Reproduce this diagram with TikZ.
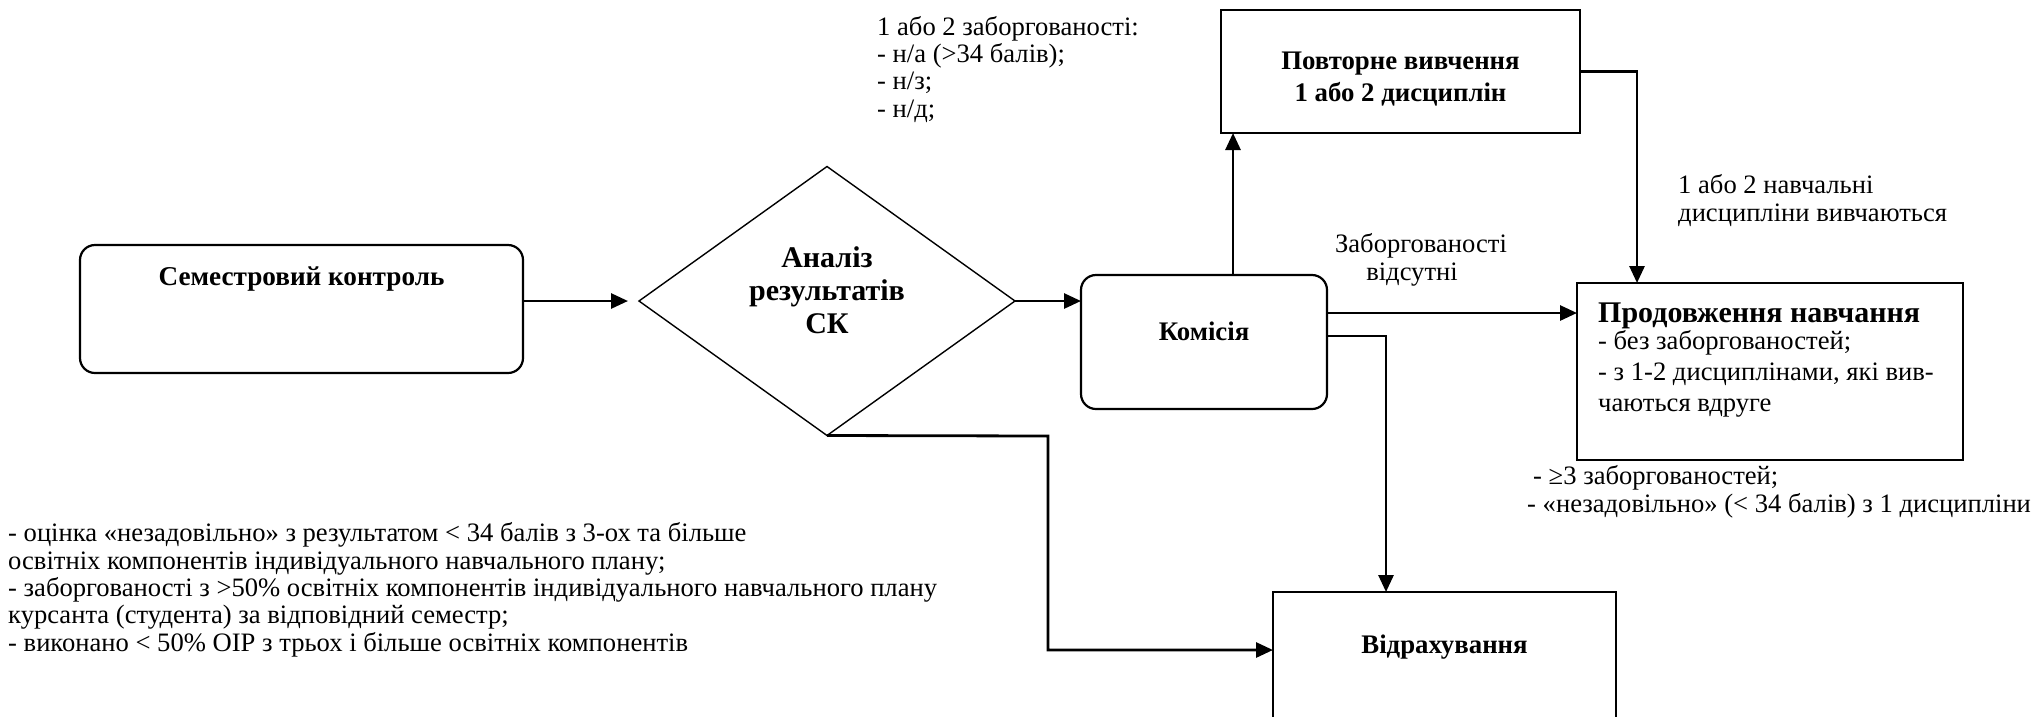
\documentclass[tikz,border=0pt]{standalone}
\usepackage{fontspec}
\setmainfont{Liberation Serif}
\usetikzlibrary{arrows.meta,shapes.geometric,calc}
\begin{document}
\begin{tikzpicture}[x=1pt,y=-1pt,
  reg/.style={font=\fontsize{26.6}{27.3}\selectfont},
  boxfont/.style={font=\fontsize{26.8}{32}\selectfont\bfseries},
  bigfont/.style={font=\fontsize{30}{33}\selectfont\bfseries},
  rbox/.style={draw, line width=2.2pt, rounded corners=15pt, inner sep=0pt, outer sep=0pt},
  sbox/.style={draw, line width=2.2pt, inner sep=0pt, outer sep=0pt},
  arr/.style={line width=2.8pt, -{Triangle[length=17pt,width=15pt]}},
  lbl/.style={reg, inner sep=0pt, align=left, anchor=base west},
]
\useasboundingbox (0,0) rectangle (2033,716);
\clip (0,0) rectangle (2033,716);

% boxes
\node[rbox, minimum width=443pt, minimum height=128pt, font=\fontsize{27.2}{32}\selectfont\bfseries, text height=20pt, text depth=68pt] (sem) at (301.5,309) {Семестровий контроль};
\node[draw, diamond, line width=1.4pt, minimum width=376pt, minimum height=269pt, inner sep=0pt, outer sep=0pt, bigfont, align=center, text height=74pt, text depth=10pt] (ana) at (827,301) {Аналіз\\результатів\\СК};
\node[rbox, minimum width=246pt, minimum height=134pt, boxfont, text height=20pt, text depth=24pt] (kom) at (1204,342) {Комісія};
\node[sbox, minimum width=359pt, minimum height=123pt, boxfont, align=center, text height=69pt, text depth=10pt] (pov) at (1400.5,71.5) {Повторне вивчення\\1 або 2 дисциплін};
\node[sbox, minimum width=386pt, minimum height=177pt] (prod) at (1770,371.5) {};
\node[lbl, font=\fontsize{26.6}{31}\selectfont] (prodtxt) at ([shift={(21,128)}]prod.north west) {{\fontsize{30}{31}\selectfont\bfseries Продовження навчання}\\[-4pt]- без заборгованостей;\\- з 1-2 дисциплінами, які вив-\\чаються вдруге};
\node[sbox, minimum width=343pt, minimum height=138pt, boxfont, text height=20pt, text depth=36pt] (vid) at (1444.5,661) {Відрахування};

% connectors
\draw[arr, shorten >=11pt] (sem.east |- ana.west) -- (ana.west);
\draw[arr] (ana.east) -- (ana.east -| kom.west);
\draw[arr] ([xshift=29pt]kom.north) -- ([xshift=29pt]kom.north |- pov.south);
\draw[arr] (pov.east) -| ([xshift=-133pt]prod.north);
\draw[arr] ([yshift=29pt]kom.east) -- ([yshift=29pt]kom.east -| prod.west);
\draw[arr] ([yshift=6pt]kom.east) -| ([xshift=-58.5pt]vid.north);
\coordinate (b1) at (1048,436);
\draw[arr] (ana.south) -- (b1) |- ([yshift=11pt]vid.west);

% labels (anchored at the baseline of the last line)
\node[lbl] (l1) at (877,117) {1 або 2 заборгованості:\\- н/а (>34 балів);\\- н/з;\\- н/д;};
\node[reg, inner sep=0pt, align=center, anchor=base] (l2) at (1421,280) {Заборгованості\\відсутні\hspace*{18pt}};
\node[lbl] (l3) at (1678,221) {1 або 2 навчальні\\дисципліни вивчаються};
\node[lbl] (l4) at (1527,512) {\hspace*{6pt}- ≥3 заборгованостей;\\- «незадовільно» (< 34 балів) з 1 дисципліни};
\node[lbl] (l5) at (8,651) {- оцінка «незадовільно» з результатом < 34 балів з 3-ох та більше\\освітніх компонентів індивідуального навчального плану;\\- заборгованості з >50\% освітніх компонентів індивідуального навчального плану\\курсанта (студента) за відповідний семестр;\\- виконано < 50\% ОІР з трьох і більше освітніх компонентів};
\end{tikzpicture}
\end{document}
